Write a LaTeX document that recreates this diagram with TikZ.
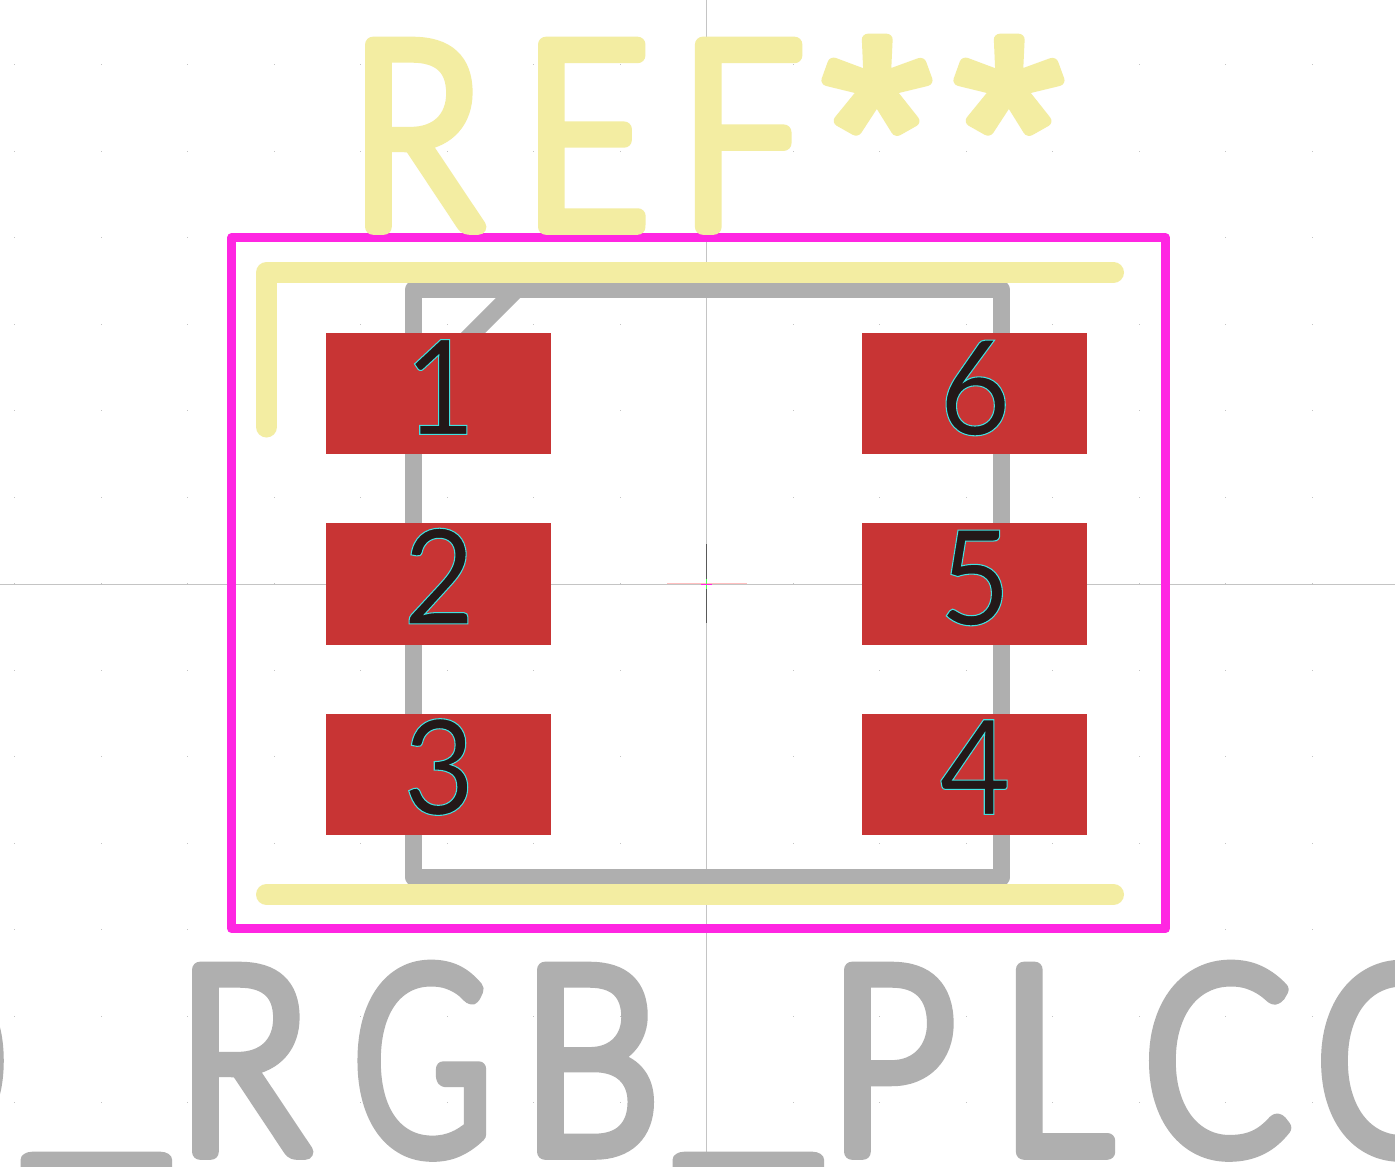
\documentclass[tikz,border=0pt]{standalone}
\usepackage{fontspec}
\newfontfamily\silkfont[FakeBold=6,FakeStretch=0.84]{Lato Light}
\newfontfamily\starfont[FakeBold=4.5]{Liberation Sans}
\newfontfamily\digitfont[FakeBold=0.8,FakeStretch=0.93]{Lato}
\definecolor{silkyellow}{HTML}{F3EDA2}
\definecolor{courtmagenta}{HTML}{FF26E2}
\definecolor{fabgrey}{HTML}{AFAFAF}
\definecolor{padred}{HTML}{C83434}
\definecolor{digitdark}{HTML}{231818}
\definecolor{axisgrey}{HTML}{C4C4C4}
\newcommand{\roundpen}{\special{pdf:code 1 j 1 J}}
\newcommand{\cyanpen}{\special{pdf:code 0.25 0.88 0.88 RG}}
\newcommand{\slot}[2]{\makebox[#1pt][l]{#2}}
\newcommand{\silkbar}{\raisebox{19pt}{\scalebox{1.5}[1]{\_}}}
\newcommand{\silkstar}{\raisebox{10pt}{\scalebox{1.07}[1]{\starfont\roundpen *}}}
\begin{document}
\begin{tikzpicture}[
        x=1pt, y=-1pt,
        silktrack/.style={draw=silkyellow, line width=21pt, line cap=round, line join=round},
        fabline/.style={draw=fabgrey, line width=17pt, line join=round},
        courtline/.style={draw=courtmagenta, line width=8.7pt, line join=round},
        padbox/.style={rectangle, fill=padred, inner sep=0pt, minimum width=225pt, minimum height=121pt},
        padnum/.style={inner sep=0pt, text=digitdark, font=\fontsize{132}{132}\digitfont},
        silktext/.style={inner sep=0pt, anchor=base west, font=\fontsize{258}{258}\silkfont}
    ]
    \useasboundingbox (0,0) rectangle (1395,1167);
    \clip (0,0) rectangle (1395,1167);
    \fill[white] (0,0) rectangle (1395,1167);

    % Grid dots
    \foreach \i in {-8,...,8}
        \foreach \j in {-6,...,6}
            \fill[axisgrey] ({706.5+86.5*\i-0.5},{583.5+86.5*\j-0.5}) rectangle +(1,1);

    % Axes
    \draw[axisgrey, line width=1pt] (706.5,0) -- (706.5,1167);
    \draw[axisgrey, line width=1pt] (0,584) -- (1395,584);

    % Fabrication outline
    \draw[fabline] (413.5,289.5) rectangle (1001.5,877);
    \draw[fabline] (516.5,289.5) -- (413.5,392.5);

    % Courtyard
    \draw[courtline] (231.7,237.5) rectangle (1165.5,928.8);

    % Silkscreen
    \draw[silktrack] (266.5,427) -- (266.5,272.5) -- (1113.5,272.5);
    \draw[silktrack] (266.5,894.5) -- (1113.5,894.5);

    % Pads
    \node[padbox] (pad1) at (438.5,393.5) {};
    \node[padbox, minimum height=122pt] (pad2) at (438.5,584) {};
    \node[padbox] (pad3) at (438.5,774.5) {};
    \node[padbox] (pad6) at (974.5,393.5) {};
    \node[padbox, minimum height=122pt] (pad5) at (974.5,584) {};
    \node[padbox] (pad4) at (974.5,774.5) {};

    % Pad numbers
    \node[padnum] (num1) at (440,387) {\cyanpen 1};
    \node[padnum] (num2) at (439,576) {\cyanpen 2};
    \node[padnum] (num3) at (439,767) {\cyanpen 3};
    \node[padnum] (num6) at (975,388) {\cyanpen 6};
    \node[padnum] (num5) at (975,578) {\cyanpen 5};
    \node[padnum] (num4) at (975,767) {\cyanpen 4};

    % Anchor mark
    \draw[black!65, line width=1pt] (706,544) -- (706,623);
    \draw[pink, line width=1pt] (667,583.3) -- (747,583.3);
    \draw[green!70!white, line width=1pt] (706,579) -- (706,589);
    \draw[courtmagenta, line width=1pt] (701,584.3) -- (712,584.3);

    % Texts
    \node[silktext, text=silkyellow] (reftext) at (350,227)
        {\roundpen\slot{173}{R}\slot{157}{E}\slot{143}{F}\slot{132}{\silkstar}\silkstar};
    \node[silktext, text=fabgrey] (valtext) at (-156,1152)
        {\roundpen\slot{179}{D}\slot{154}{\silkbar}\slot{176}{R}\slot{169}{\scalebox{0.87}[1]{G}}\slot{153}{B}\slot{154}{\silkbar}\slot{172}{P}\slot{143}{L}\slot{172}{C}C};
\end{tikzpicture}
\end{document}
